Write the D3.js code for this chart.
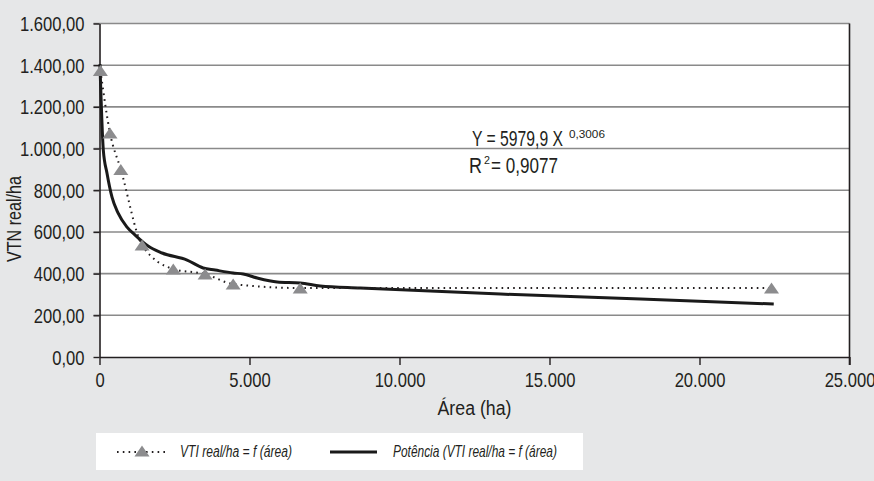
<!DOCTYPE html>
<html>
<head>
<meta charset="utf-8">
<script src="https://cdn.jsdelivr.net/npm/d3@7"></script>
<style>
  html, body { margin: 0; padding: 0; background: #e6e7e8; }
  svg { display: block; }
  text { font-family: "Liberation Sans", Arial, sans-serif; fill: #231f20; }
</style>
</head>
<body>
<svg id="chart" width="874" height="481"></svg>
<script>
// ---- data ----
const areas = [30, 350, 710, 1420, 2460, 3520, 4455, 6690, 22400];
const vtnReal = [1375, 1075, 900, 537, 422, 398, 350, 331, 331];
const trendArea = [15, 127, 250, 417, 617, 918, 1185, 1618, 2086, 2920, 3454, 3854, 4455, 4789, 5256, 5923, 6691, 7358, 8693, 13365, 18037, 22475];
const trendVtn = [1405, 993, 882, 767, 691, 623, 585, 532, 499, 465, 427, 417, 403, 398, 379, 360, 355, 341, 331, 302, 278, 254];
const yTicks = [0, 200, 400, 600, 800, 1000, 1200, 1400, 1600];
const xTicks = [0, 5000, 10000, 15000, 20000, 25000];
const yTickLabels = ["0,00", "200,00", "400,00", "600,00", "800,00", "1.000,00", "1.200,00", "1.400,00", "1.600,00"];
const xTickLabels = ["0", "5.000", "10.000", "15.000", "20.000", "25.000"];
const yTitle = "VTN real/ha";
const xTitle = "Área (ha)";
const seriesNames = ["VTI real/ha = f (área)", "Potência (VTI real/ha = f (área)"];
const eqMain = "Y = 5979,9 X";
const eqExp = "0,3006";
const r2Value = " = 0,9077";

// ---- helpers ----
// place a text at (px,py) and squeeze it horizontally by a factor (condensed face look)
function squeeze(sel, px, py, f, rot) {
  sel.attr("x", 0).attr("y", 0).attr("dy", null)
    .attr("transform", `translate(${px},${py})${rot ? ` rotate(${rot})` : ""} scale(${f},1)`);
}
// squeeze a text so that its drawn width equals target
function fitText(sel, px, py, target, rot) {
  const w = sel.node().getComputedTextLength();
  squeeze(sel, px, py, target / w, rot);
}
function tri(w, h) {
  const p = d3.path();
  p.moveTo(0, -h / 2); p.lineTo(w / 2, h / 2); p.lineTo(-w / 2, h / 2); p.closePath();
  return p.toString();
}

// ---- layout ----
const svg = d3.select("#chart");
const L = 99.5, R = 849.5, T = 23.5, B = 357;
const x = d3.scaleLinear().domain([0, 25000]).range([L, R]);
const y = d3.scaleLinear().domain([0, 1600]).range([B, T]);

svg.append("rect").attr("width", 874).attr("height", 481).attr("fill", "#e6e7e8");
svg.append("rect").attr("x", L).attr("y", T).attr("width", R - L).attr("height", B - T).attr("fill", "#ffffff");

// gridlines
svg.append("g").selectAll("line").data(yTicks.filter(d => d > 0)).join("line")
  .attr("x1", L - 6).attr("x2", R).attr("y1", d => y(d)).attr("y2", d => y(d))
  .attr("stroke", "#8a8a8a").attr("stroke-width", 1.6);

// y axis
const yAxis = svg.append("g").attr("transform", `translate(${L},0)`)
  .call(d3.axisLeft(y).tickValues(yTicks).tickSize(6).tickSizeOuter(0).tickFormat((d, i) => yTickLabels[i]));
yAxis.attr("font-family", null).attr("font-size", null);
yAxis.select(".domain").attr("stroke", "#231f20").attr("stroke-width", 1.6);
yAxis.selectAll(".tick line").attr("stroke", "#231f20").attr("stroke-width", 1.4);
yAxis.selectAll(".tick text").style("font-size", "20px").attr("fill", "#231f20")
  .each(function () { squeeze(d3.select(this), -15, 7, 0.83); });

// x axis
const xAxis = svg.append("g").attr("transform", `translate(0,${B})`)
  .call(d3.axisBottom(x).tickValues(xTicks).tickSize(8).tickSizeOuter(0).tickFormat((d, i) => xTickLabels[i]));
xAxis.attr("font-family", null).attr("font-size", null);
xAxis.select(".domain").attr("stroke", "#231f20").attr("stroke-width", 1.6);
xAxis.selectAll(".tick line").attr("stroke", "#231f20").attr("stroke-width", 1.4);
xAxis.selectAll(".tick text").style("font-size", "20px").attr("fill", "#231f20")
  .each(function () { squeeze(d3.select(this), 0, 30, 0.83); });

// right border
svg.append("line").attr("x1", R).attr("x2", R).attr("y1", T).attr("y2", B + 8)
  .attr("stroke", "#231f20").attr("stroke-width", 1.6);

// titles
svg.append("text").attr("text-anchor", "middle").style("font-size", "20px").text(yTitle)
  .call(fitText, 21, 219, 86, -90);
svg.append("text").attr("text-anchor", "middle").style("font-size", "21px").text(xTitle)
  .call(fitText, (L + R) / 2, 415, 74);

// trend line (solid)
const trendPts = trendArea.map((a, i) => [a, trendVtn[i]]);
svg.append("path").datum(trendPts)
  .attr("d", d3.line().x(d => x(d[0])).y(d => y(d[1])).curve(d3.curveMonotoneX))
  .attr("fill", "none").attr("stroke", "#1a1a1a").attr("stroke-width", 3);

// data series (dotted + triangles)
const pts = areas.map((a, i) => [a, vtnReal[i]]);
svg.append("path").datum(pts)
  .attr("d", d3.line().x(d => x(d[0])).y(d => y(d[1])).curve(d3.curveMonotoneX))
  .attr("fill", "none").attr("stroke", "#231f20").attr("stroke-width", 2)
  .attr("stroke-dasharray", "1.6,4.2");
svg.append("g").selectAll("path").data(pts).join("path")
  .attr("transform", d => `translate(${x(d[0])},${y(d[1])})`)
  .attr("d", tri(15, 11)).attr("fill", "#8c8c8e");

// equation
svg.append("text").style("font-size", "22px").text(eqMain).call(fitText, 472, 146, 91);
svg.append("text").style("font-size", "11px").text(eqExp).call(fitText, 569, 138, 36);
svg.append("text").style("font-size", "22px").text("R").call(fitText, 469, 173, 13);
svg.append("text").style("font-size", "11px").text("2").call(fitText, 484, 164, 6);
svg.append("text").style("font-size", "22px").text(r2Value).call(fitText, 491, 173, 67);

// legend
const lg = svg.append("g");
lg.append("rect").attr("x", 96).attr("y", 433).attr("width", 487).attr("height", 37).attr("fill", "#ffffff");
lg.append("line").attr("x1", 117).attr("x2", 167).attr("y1", 452).attr("y2", 452)
  .attr("stroke", "#231f20").attr("stroke-width", 2).attr("stroke-dasharray", "1.6,4.2");
lg.append("path").attr("transform", "translate(142,451)").attr("d", tri(15, 11)).attr("fill", "#8c8c8e");
lg.append("text").style("font-size", "17px").style("font-style", "italic").text(seriesNames[0])
  .call(fitText, 180, 457, 112);
lg.append("line").attr("x1", 330).attr("x2", 377).attr("y1", 452).attr("y2", 452)
  .attr("stroke", "#1a1a1a").attr("stroke-width", 3);
lg.append("text").style("font-size", "17px").style("font-style", "italic").text(seriesNames[1])
  .call(fitText, 393, 457, 164);
</script>
</body>
</html>
